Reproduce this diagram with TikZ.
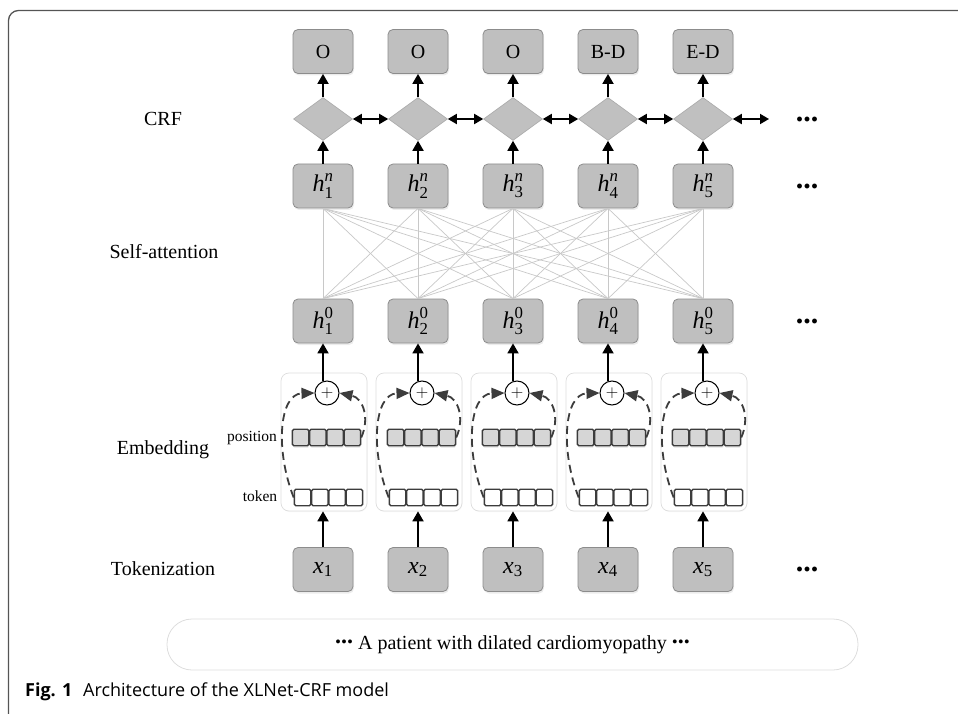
\documentclass[tikz,border=0pt]{standalone}
\usepackage{amsmath}
\usepackage{fontspec}
\setmainfont{Liberation Serif}
\newfontfamily\capfont{Open Sans}
\usetikzlibrary{shapes.geometric,arrows.meta,shadows}
\definecolor{boxfill}{HTML}{BFBFBF}
\definecolor{boxdraw}{HTML}{8C8C8C}
\definecolor{diafill}{HTML}{C0C0C0}
\definecolor{diadraw}{HTML}{A8A8A8}
\definecolor{paneldraw}{HTML}{DDDDDD}
\definecolor{posfill}{HTML}{D6D6D6}
\definecolor{darkline}{HTML}{3C3C3C}
\definecolor{attline}{HTML}{C8C8C8}
\definecolor{framecol}{HTML}{555555}
\newcommand\hvec[2]{$\textit{h}^{#2}_{\text{#1}}$}
\newcommand\xvec[1]{$\textit{x}_{\text{#1}}$}
\begin{document}
\begin{tikzpicture}[x=1pt,y=-1pt,
  bigfont/.style={font=\fontsize{20}{24}\selectfont},
  mathfont/.style={font=\fontsize{24}{28}\selectfont},
  smallfont/.style={font=\fontsize{15.5}{18}\selectfont},
  gbox/.style={draw=boxdraw, fill=boxfill, rounded corners=5pt, line width=0.8pt,
    minimum width=60pt, minimum height=44pt, inner sep=0pt, bigfont,
    drop shadow={shadow xshift=1pt, shadow yshift=-2pt, opacity=0.15}},
  gdia/.style={diamond, draw=diadraw, fill=diafill, line width=0.6pt,
    minimum width=59pt, minimum height=43pt, inner sep=0pt},
  panel/.style={draw=paneldraw, fill=white, rounded corners=8pt, line width=0.7pt,
    minimum width=86pt, minimum height=138pt, inner sep=0pt,
    drop shadow={shadow xshift=0.5pt, shadow yshift=-1pt, opacity=0.06}},
  possq/.style={draw=darkline, fill=posfill, rounded corners=1.5pt, line width=1.3pt,
    minimum size=16.5pt, inner sep=0pt,
    drop shadow={shadow xshift=0.5pt, shadow yshift=-2pt, opacity=0.15}},
  toksq/.style={draw=darkline, fill=white, rounded corners=1.5pt, line width=1.3pt,
    minimum size=16.5pt, inner sep=0pt},
  plus/.style={circle, draw=black, fill=white, line width=1pt, minimum size=24pt, inner sep=0pt,
    font=\fontsize{18}{18}\selectfont},
  arr/.style={line width=1.8pt, -{Triangle[length=10pt,width=11pt]}},
  darr/.style={line width=1.8pt, {Triangle[length=9pt,width=10pt]}-{Triangle[length=9pt,width=10pt]}},
  att/.style={draw=attline, line width=0.7pt},
  dsh/.style={draw=darkline, line width=1.8pt, dash pattern=on 8pt off 5pt,
    -{Triangle[length=13pt,width=11pt]}},
  lbl/.style={bigfont},
  dots/.style={font=\fontsize{30}{30}\selectfont\bfseries}
]
\useasboundingbox (0,0) rectangle (958,714);
% frame
\draw[framecol, line width=1.3pt, rounded corners=10pt] (8.5,714) -- (8.5,10.5) -- (958,10.5);

% row labels
\node[lbl] (lcrf) at (163,119) {CRF};
\node[lbl] (lsa) at (164,252) {Self-attention};
\node[lbl] (lemb) at (163,450) {Embedding};
\node[lbl] (ltok) at (163,569) {Tokenization};
\node[smallfont] (lpos) at (252,438) {position};
\node[smallfont] (ltoken) at (260,496) {token};

% columns
\foreach \i/\lab in {1/O,2/O,3/O,4/B-D,5/E-D}{
  \pgfmathsetmacro\c{323+95*(\i-1)}
  \node[gbox] (o\i) at (\c,51.5) {\lab};
  \node[gdia] (d\i) at (\c,119) {};
  \node[gbox, mathfont] (hn\i) at (\c,186) {\hvec{\i}{\textit{n}}};
  \node[gbox, mathfont] (hz\i) at (\c,321) {\hvec{\i}{\text{0}}};
  \node[panel] (p\i) at (\c+1,442) {};
  \node[gbox, mathfont] (x\i) at (\c,569.5) {\xvec{\i}};
  \foreach \k in {1,2,3,4}{
    \node[possq] (q\i\k) at (\c-22.4+17.25*\k-17.25,437.5) {};
    \node[toksq] (t\i\k) at (\c-20.4+17.25*\k-17.25,497.5) {};
  }
  \node[plus] (s\i) at (\c+4,393) {$+$};
  \draw[arr] (d\i.north) -- (o\i.south);
  \draw[arr] (hn\i.north) -- (d\i.south);
  \draw[arr] (hz\i.south |- s\i.north) -- (hz\i.south);
  \draw[arr] (x\i.north) -- (x\i.north |- p\i.south);
  \draw[dsh] (t\i1.west) .. controls (\c-48,450) and (\c-44,394) .. (s\i.west);
  \draw[dsh] (q\i4.east) .. controls (\c+47,418) and (\c+40,398) .. (s\i.east);
}

% self-attention full connections
\foreach \i in {1,...,5}{
  \foreach \j in {1,...,5}{
    \draw[att] (hn\i.south) -- (hz\j.north);
  }
}

% CRF chain
\foreach \i/\j in {1/2,2/3,3/4,4/5}{
  \draw[darr] (d\i.east) -- (d\j.west);
}
\coordinate (dend) at (769,119);
\draw[darr] (d5.east) -- (dend);

% ellipses on the right
\node[dots] (e1) at (807,119) {...};
\node[dots] (e2) at (807,186) {...};
\node[dots] (e3) at (807,321) {...};
\node[dots] (e4) at (807,569.5) {...};

% sentence
\node[draw=paneldraw, line width=0.8pt, rounded corners=25pt, minimum width=691pt,
  minimum height=51pt, bigfont] (sent) at (512.5,644.5)
  {\raisebox{0.28em}{\fontsize{24}{24}\selectfont\textbf{...}} A patient with dilated cardiomyopathy \raisebox{0.28em}{\fontsize{24}{24}\selectfont\textbf{...}}};

% caption
\node[anchor=west, inner sep=0pt, font=\capfont\fontsize{18}{20}\selectfont] (cap) at (25,692)
  {\textbf{Fig. 1}\hspace{0.6em}Architecture of the XLNet-CRF model};
\end{tikzpicture}
\end{document}
